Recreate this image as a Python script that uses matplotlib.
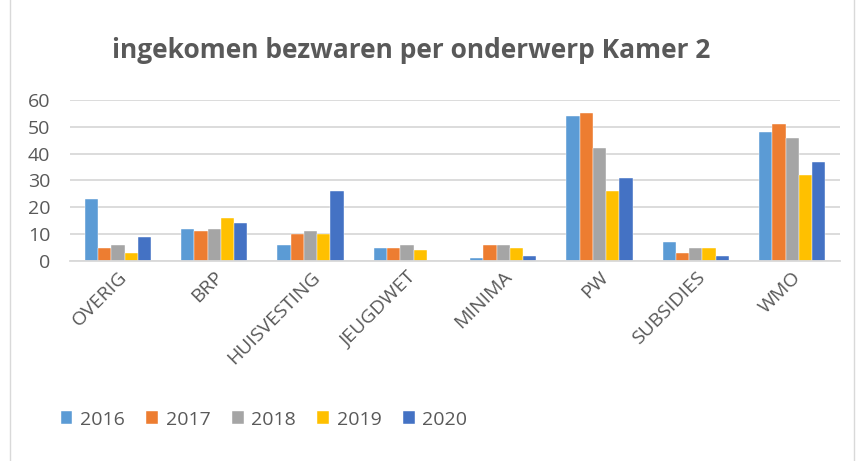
import matplotlib.pyplot as plt
import numpy as np
from matplotlib.patches import Rectangle

categories = ['OVERIG', 'BRP', 'HUISVESTING', 'JEUGDWET', 'MINIMA', 'PW', 'SUBSIDIES', 'WMO']
years = ['2016', '2017', '2018', '2019', '2020']
v2016 = [23, 12, 6, 5, 1, 54, 7, 48]
v2017 = [5, 11, 10, 5, 6, 55, 3, 51]
v2018 = [6, 12, 11, 6, 6, 42, 5, 46]
v2019 = [3, 16, 10, 4, 5, 26, 5, 32]
v2020 = [9, 14, 26, 0, 2, 31, 2, 37]
colors = ['#5b9bd5', '#ed7d31', '#a5a5a5', '#ffc000', '#4472c4']

plt.rcParams['font.family'] = ['Open Sans', 'DejaVu Sans']
text_col = '#595959'

fig = plt.figure(figsize=(8.61, 4.61), dpi=100)
fig.patches.append(Rectangle((0.012, -0.01), 0.98, 1.02, transform=fig.transFigure,
                             fill=False, edgecolor='#d9d9d9', linewidth=1))
ax = fig.add_axes([0.081, 0.434, 0.895, 0.349])

x = np.arange(len(categories))
w = 0.138
series = [v2016, v2017, v2018, v2019, v2020]
for i, (vals, c, y) in enumerate(zip(series, colors, years)):
    ax.bar(x + (i - 2) * w, vals, w, color=c, label=y, edgecolor='white', linewidth=0.3)

ax.set_xlim(-0.5, len(categories) - 0.5)
ax.set_ylim(0, 60)
ax.set_yticks(range(0, 61, 10))
ax.yaxis.grid(True, color='#d9d9d9', linewidth=1.3)
ax.set_axisbelow(True)
for s in ['top', 'right', 'left']:
    ax.spines[s].set_visible(False)
ax.spines['bottom'].set_color('#d9d9d9')
ax.spines['bottom'].set_linewidth(1.3)
ax.tick_params(axis='both', length=0, colors=text_col, labelsize=14)
ax.tick_params(axis='y', pad=14)
ax.tick_params(axis='x', pad=5)
ax.set_xticks(x)
ax.set_xticklabels(categories, rotation=45, ha='right', rotation_mode='anchor')

fig.text(0.478, 0.89, 'ingekomen bezwaren per onderwerp Kamer 2', ha='center', va='center',
         fontsize=19, fontweight='bold', color=text_col)

fig.legend(loc='center left', bbox_to_anchor=(0.05, 0.09), ncol=5, frameon=False,
           fontsize=14, labelcolor=text_col, handlelength=0.6, handleheight=0.6,
           columnspacing=1.1, handletextpad=0.4)

fig.savefig('out.png', dpi=100)
